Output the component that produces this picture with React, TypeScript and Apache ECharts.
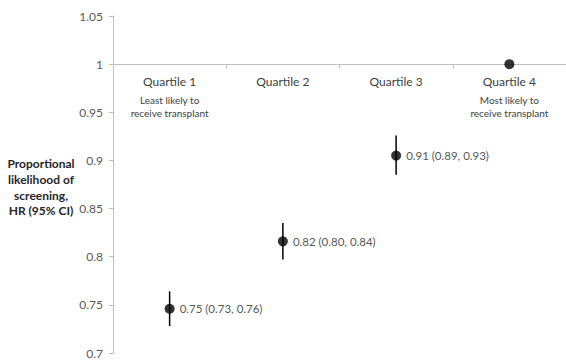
import React, { useEffect, useRef } from "react";
import * as echarts from "echarts";

const categories = ["Quartile 1", "Quartile 2", "Quartile 3", "Quartile 4"];
const subLabels = [["Least likely to", "receive transplant"], [], [], ["Most likely to", "receive transplant"]];
const hrValues = [0.746, 0.816, 0.905, 1];
const ciLower = [0.728, 0.797, 0.885, 1];
const ciUpper = [0.764, 0.835, 0.926, 1];
const pointLabels = ["0.75 (0.73, 0.76)", "0.82 (0.80, 0.84)", "0.91 (0.89, 0.93)", ""];
const yAxisTitle = "Proportional\nlikelihood of\nscreening,\nHR (95% CI)";

const FONT = "Lato, 'Open Sans', sans-serif";

export default function App() {
  const ref = useRef<HTMLDivElement>(null);
  useEffect(() => {
    if (!ref.current) return;
    const chart = echarts.init(ref.current, undefined, { renderer: "svg" });
    const top = 16;
    const bottom = 7;
    const height = 360 - top - bottom;
    const yMin = 0.7;
    const yMax = 1.05;
    const axisPos = top + ((yMax - 1) / (yMax - yMin)) * height;
    const offset = -(360 - bottom - axisPos);
    chart.setOption({
      animation: false,
      textStyle: { fontFamily: FONT },
      grid: { left: 113, right: -3, top, bottom, containLabel: false },
      xAxis: {
        type: "category",
        data: categories,
        position: "bottom",
        offset,
        axisLine: { lineStyle: { color: "#bfbfbf", width: 1 } },
        axisTick: { show: true, length: 4, inside: false, lineStyle: { color: "#bfbfbf" } },
        axisLabel: {
          margin: 6,
          interval: 0,
          formatter: (v: string, i: number) => {
            const subs = subLabels[i] || [];
            return ["{a|" + v + "}", ...subs.map((s) => "{b|" + s + "}")].join("\n");
          },
          rich: {
            a: { fontSize: 12, lineHeight: 23, color: "#404040", fontFamily: FONT },
            b: { fontSize: 10, lineHeight: 13, color: "#404040", fontFamily: FONT },
          },
        },
        splitLine: { show: false },
      },
      yAxis: {
        type: "value",
        min: yMin,
        max: yMax,
        interval: 0.05,
        axisLine: { show: true, lineStyle: { color: "#bfbfbf" } },
        axisTick: { show: true, length: 4, lineStyle: { color: "#bfbfbf" } },
        axisLabel: {
          margin: 10,
          fontSize: 12,
          color: "#595959",
          fontFamily: FONT,
          formatter: (v: number) => String(Math.round(v * 100) / 100),
        },
        splitLine: { show: false },
      },
      graphic: [
        {
          type: "text",
          x: 41,
          y: 156,
          style: {
            text: yAxisTitle,
            fontSize: 12,
            fontWeight: "bold",
            fill: "#262626",
            fontFamily: FONT,
            lineHeight: 15.7,
            align: "center",
            verticalAlign: "top",
          },
        },
      ],
      series: [
        {
          type: "custom",
          renderItem: (params: any, api: any) => {
            const x = api.value(0);
            const lo = api.coord([x, api.value(1)]);
            const hi = api.coord([x, api.value(2)]);
            return {
              type: "line",
              shape: { x1: lo[0], y1: lo[1], x2: hi[0], y2: hi[1] },
              style: { stroke: "#000", lineWidth: 1.5 },
            };
          },
          data: categories.map((c, i) => [i, ciLower[i], ciUpper[i]]),
          z: 2,
        },
        {
          type: "scatter",
          symbol: "circle",
          symbolSize: 10,
          itemStyle: { color: "#000" },
          data: categories.map((c, i) => [i, hrValues[i]]),
          label: {
            show: true,
            position: "right",
            distance: 5,
            fontSize: 11.5,
            color: "#262626",
            fontFamily: FONT,
            formatter: (p: any) => pointLabels[p.dataIndex],
          },
          z: 3,
        },
      ],
    });
    return () => chart.dispose();
  }, []);
  return <div ref={ref} style={{ width: 566, height: 360, position: "absolute", left: 0, top: 0 }} />;
}
